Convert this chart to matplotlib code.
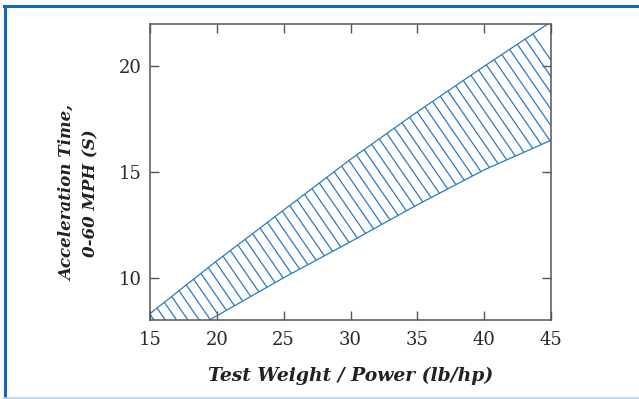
import numpy as np
import matplotlib
matplotlib.use("Agg")
import matplotlib.pyplot as plt
from matplotlib.collections import LineCollection
from matplotlib.lines import Line2D

# Data
weight_power = [15, 20, 25, 30, 35, 40, 45]
accel_upper = [8.3, 10.8, 13.2, 15.6, 17.85, 20.0, 22.1]
accel_lower = [6.4, 8.2, 10.0, 11.7, 13.45, 15.1, 16.5]
x_ticks = [15, 20, 25, 30, 35, 40, 45]
y_ticks = [10, 15, 20]
x_label = "Test Weight / Power (lb/hp)"
y_label = "Acceleration Time,\n0-60 MPH (S)"

BLUE = "#2b7bc0"
FONT = "DejaVu Serif"

fig = plt.figure(figsize=(6.39, 3.99), dpi=100)
ax = fig.add_axes([150 / 639, 1 - 320 / 399, 401 / 639, 296 / 399])
ax.set_xlim(15, 45)
ax.set_ylim(8, 22)

# band outline
band = ax.fill_between(weight_power, accel_lower, accel_upper,
                       facecolor="none", edgecolor="none")
ax.plot(weight_power, accel_upper, color=BLUE, lw=0.9)
ax.plot(weight_power, accel_lower, color=BLUE, lw=0.9)

# hatch lines (styling), clipped to band
slope = -0.917
spacing = 0.845
x0s = 42.34 + spacing * np.arange(-60, 20)
segs = [[(x0, 8), (x0 + (30 - 8) / slope, 30)] for x0 in x0s]
lc = LineCollection(segs, colors=BLUE, linewidths=0.9)
ax.add_collection(lc)
lc.set_clip_path(band.get_paths()[0], band.get_transform())

ax.set_xticks(x_ticks)
ax.set_yticks(y_ticks)
ax.tick_params(direction="in", length=6.5, width=1.0, color="#555555",
               top=True, right=True, labelsize=13, labelcolor="#2a2a2a")
ax.tick_params(axis="x", pad=8)
ax.tick_params(axis="y", pad=6)
for lab in ax.get_xticklabels() + ax.get_yticklabels():
    lab.set_fontfamily(FONT)
for s in ax.spines.values():
    s.set_color("#555555")
    s.set_linewidth(1.1)

ax.set_xlabel(x_label, fontfamily=FONT, fontstyle="italic", fontweight="bold",
              fontsize=13.5, color="#222222", labelpad=13)
ax.set_ylabel(y_label, fontfamily=FONT, fontstyle="italic", fontweight="bold",
              fontsize=12, color="#222222", linespacing=1.55)
ax.yaxis.set_label_coords(-0.125, 0.43)

# figure frame
fig.add_artist(Line2D([5 / 639, 5 / 639], [1 - 6 / 399, 1 - 397 / 399],
                      transform=fig.transFigure, color="#1466b8", lw=2.2))
fig.add_artist(Line2D([4 / 639, 1], [1 - 6 / 399, 1 - 6 / 399],
                      transform=fig.transFigure, color="#1466b8", lw=2.2))
fig.add_artist(Line2D([4 / 639, 1], [1 - 397.5 / 399, 1 - 397.5 / 399],
                      transform=fig.transFigure, color="#b8d4ee", lw=1.2))

fig.savefig("out.png", dpi=100)
